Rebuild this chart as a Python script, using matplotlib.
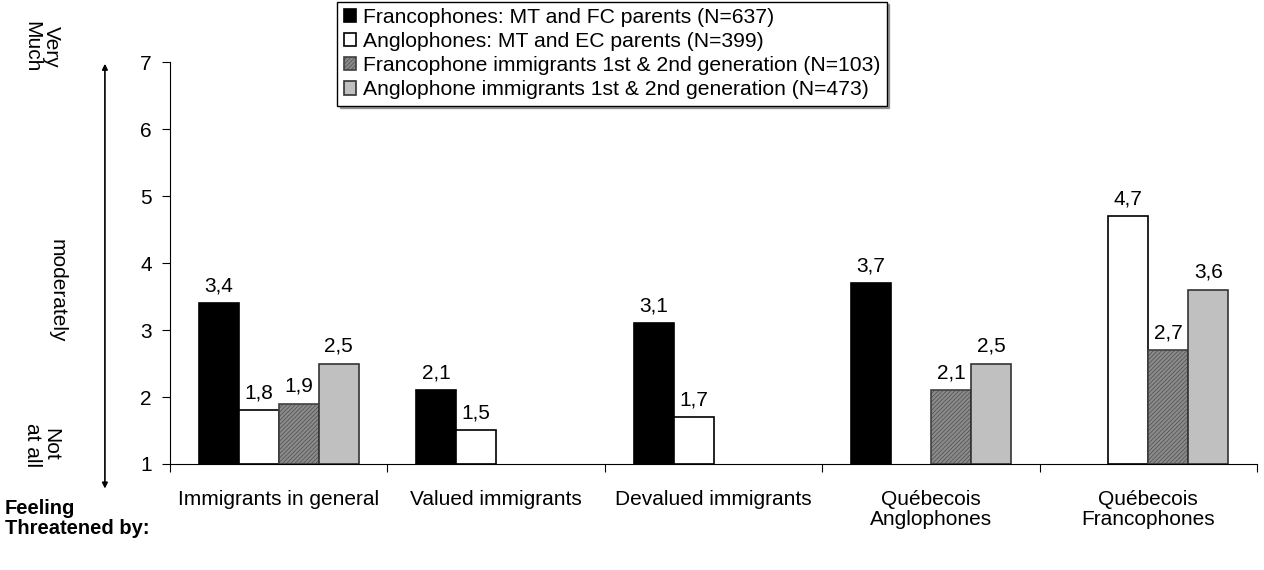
import numpy as np
import matplotlib
matplotlib.use("Agg")
import matplotlib.pyplot as plt

plt.rcParams['font.family'] = ['Liberation Sans', 'DejaVu Sans']
plt.rcParams['hatch.linewidth'] = 0.4

categories = ['Immigrants in general', 'Valued immigrants', 'Devalued immigrants',
              'Québecois\nAnglophones', 'Québecois\nFrancophones']
series_names = ['Francophones: MT and FC parents (N=637)',
                'Anglophones: MT and EC parents (N=399)',
                'Francophone immigrants 1st & 2nd generation (N=103)',
                'Anglophone immigrants 1st & 2nd generation (N=473)']
franco = [3.4, 2.1, 3.1, 3.7, None]
anglo = [1.8, 1.5, 1.7, None, 4.7]
franco_imm = [1.9, None, None, 2.1, 2.7]
anglo_imm = [2.5, None, None, 2.5, 3.6]

series = [franco, anglo, franco_imm, anglo_imm]
faces = ['black', 'white', '#8a8a8a', '#c0c0c0']
edges = ['black', 'black', '#404040', '#333333']
hatches = [None, None, '////////', None]

fig = plt.figure(figsize=(12.64, 5.70), dpi=100)
ax = fig.add_axes([0.1345, 0.186, 0.86, 0.705])

w = 0.184
x = np.arange(len(categories))
handles = []
for i, vals in enumerate(series):
    off = (i - 1.5) * w
    xs = [x[j] + off for j in range(len(vals)) if vals[j] is not None]
    ys = [vals[j] - 1 for j in range(len(vals)) if vals[j] is not None]
    b = ax.bar(xs, ys, w, bottom=1, color=faces[i], edgecolor=edges[i],
               linewidth=1.2, hatch=hatches[i], label=series_names[i])
    handles.append(b)
    for xx, yy in zip(xs, ys):
        ax.text(xx, yy + 1 + 0.12, ('%.1f' % (yy + 1)).replace('.', ','),
                ha='center', va='bottom', fontsize=15)

ax.set_xlim(-0.5, len(categories) - 0.5)
ax.set_ylim(1, 7)
ax.set_yticks(range(1, 8))
ax.set_xticks(np.arange(-0.5, len(categories), 1.0))
ax.set_xticklabels([])
ax.set_xticks(x, minor=True)
ax.set_xticklabels(categories, minor=True, fontsize=15, linespacing=1.05)
ax.tick_params(axis='x', which='minor', length=0, pad=19)
ax.tick_params(axis='x', which='major', length=6, direction='out')
ax.tick_params(axis='y', labelsize=15, length=6, direction='out', pad=7)
ax.spines['top'].set_visible(False)
ax.spines['right'].set_visible(False)

leg = fig.legend(handles=handles, loc='upper left', bbox_to_anchor=(0.267, 0.997),
                 fontsize=15.2, frameon=True, fancybox=False, shadow=True,
                 handlelength=0.6, handleheight=0.6, handletextpad=0.3,
                 labelspacing=0.24, borderpad=0.3, borderaxespad=0)
leg.get_frame().set_edgecolor('black')
leg.get_frame().set_linewidth(1.0)

# left side scale annotations
fig.text(0.033, 0.918, 'Very\nMuch', rotation=270, ha='center', va='center',
         fontsize=15, linespacing=1.0)
fig.text(0.045, 0.49, 'moderately', rotation=270, ha='center', va='center', fontsize=15)
fig.text(0.033, 0.22, 'Not\nat all', rotation=270, ha='center', va='center',
         fontsize=15, linespacing=1.0)
fig.add_artist(matplotlib.patches.FancyArrowPatch((0.083, 0.138), (0.083, 0.893),
               transform=fig.transFigure, arrowstyle='<|-|>', mutation_scale=8,
               color='black', linewidth=1.2))
fig.text(0.004, 0.090, 'Feeling\nThreatened by:', ha='left', va='center',
         fontsize=14.5, fontweight='bold', linespacing=1.05)

fig.savefig('out.png', dpi=100)
